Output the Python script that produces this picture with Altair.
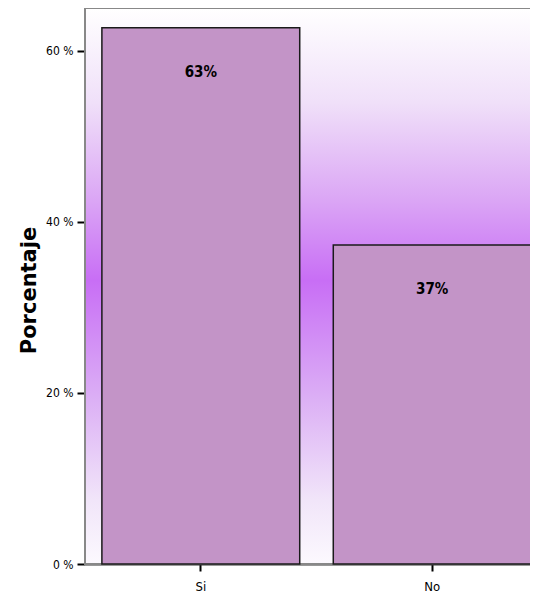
import altair as alt
import pandas as pd

categories = ["Si", "No"]
values = [62.7, 37.3]
labels = ["63%", "37%"]

df = pd.DataFrame({"cat": categories, "val": values, "lab": labels})

W, H = 445, 556
XR = 463  # full band range (plot continues past the right edge of the picture)

NARROW = "DejaVu Sans Condensed, Liberation Sans Narrow, Liberation Sans, sans-serif"

grad = alt.Gradient(
    gradient="linear", x1=0, y1=0, x2=0, y2=1,
    stops=[
        alt.GradientStop(color="#ffffff", offset=0.0),
        alt.GradientStop(color="#f0e0f9", offset=0.17),
        alt.GradientStop(color="#dba6f5", offset=0.345),
        alt.GradientStop(color="#c86ef5", offset=0.49),
        alt.GradientStop(color="#dcb0f5", offset=0.705),
        alt.GradientStop(color="#f1e5f9", offset=0.885),
        alt.GradientStop(color="#fcf9fe", offset=1.0),
    ],
)

bg = alt.Chart(df).mark_rect(fill=grad, stroke="#888888", strokeWidth=2).encode(
    x=alt.value(0), x2=alt.value(XR), y=alt.value(0), y2=alt.value(H)
)

xenc = alt.X(
    "cat:N", sort=categories,
    scale=alt.Scale(range=[0, XR], paddingInner=0.145, paddingOuter=0.073),
    axis=alt.Axis(title=None, labelAngle=0, labelFont=NARROW,
                  labelFontSize=13, labelColor="#000000", tickColor="#000000",
                  tickSize=7, tickWidth=2, domainColor="#333333", domainWidth=2,
                  labelPadding=9, grid=False),
)
yenc = alt.Y(
    "val:Q", scale=alt.Scale(domain=[0, 65], nice=False),
    axis=alt.Axis(title="Porcentaje", values=[0, 20, 40, 60],
                  labelExpr="datum.value + ' %'",
                  labelFont=NARROW, labelFontSize=12,
                  labelColor="#000000", tickColor="#000000", tickSize=8,
                  tickWidth=2, domain=False,
                  labelPadding=4, grid=False,
                  titleFont="DejaVu Sans", titleFontSize=21,
                  titleFontWeight="bold", titleColor="#000000",
                  titleX=-56, titleY=H / 2 + 4, titleAngle=-90,
                  titleAlign="center", titleBaseline="middle"),
)

bars = alt.Chart(df).mark_bar(
    fill="#c394c7", stroke="#1a1a1a", strokeWidth=1.5
).encode(x=xenc, y=yenc)

text = alt.Chart(df).mark_text(
    font=NARROW, fontSize=15, fontWeight="bold",
    color="#000000", baseline="middle", dy=44
).encode(x=alt.X("cat:N", sort=categories), y="val:Q", text="lab:N")

chart = alt.layer(bg, bars, text).properties(
    width=W, height=H,
    autosize=alt.AutoSizeParams(type="none"),
    padding={"left": 77, "top": 0, "right": 0, "bottom": 30},
).configure_view(strokeWidth=0)

chart.save("out.html", embed_options={"renderer": "svg", "actions": False})
